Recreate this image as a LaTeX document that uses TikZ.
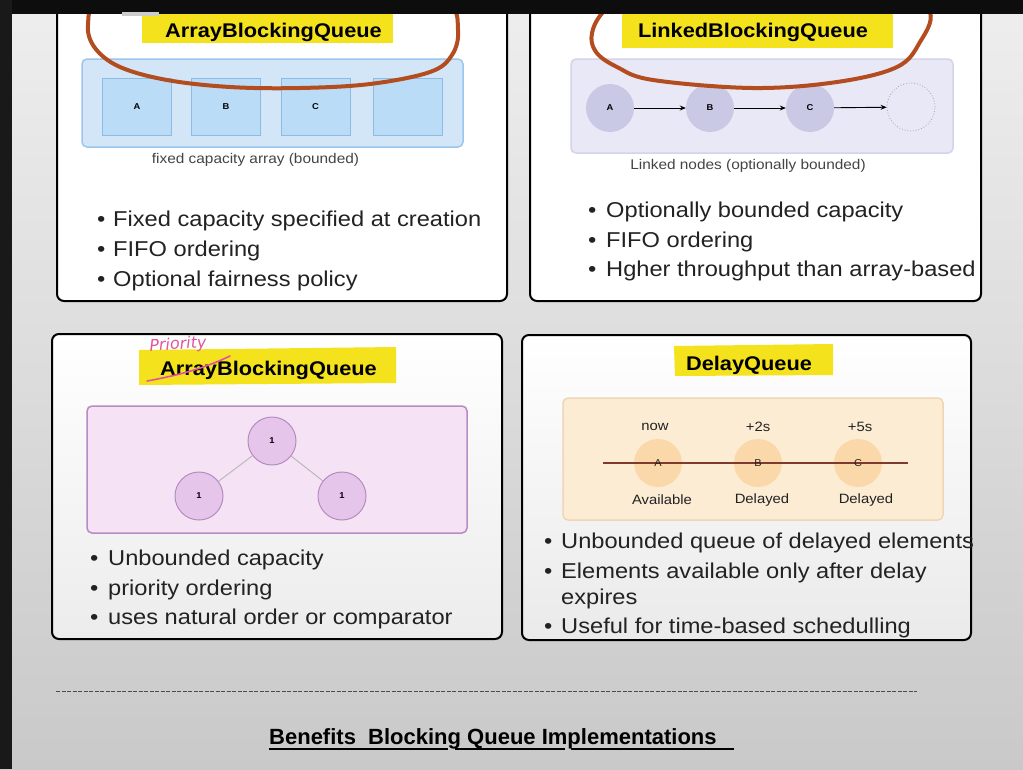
\documentclass[tikz,border=0pt]{standalone}
\usepackage{fontspec}
\setmainfont{Liberation Sans}
\newfontfamily\widesans{Liberation Sans}[FakeStretch=1.1]
\newfontfamily\handfont{DejaVu Sans}
\usetikzlibrary{arrows.meta,shapes.geometric}
\definecolor{hl}{HTML}{F4E31C}
\definecolor{txt}{HTML}{222222}
\definecolor{cap}{HTML}{444444}
\definecolor{ringc}{HTML}{B34D1F}
\definecolor{bluebg}{HTML}{D2E6F8}
\definecolor{blueln}{HTML}{9CC6EE}
\definecolor{bluecell}{HTML}{BBDCF6}
\definecolor{bluecellln}{HTML}{8DBBE2}
\definecolor{lavbg}{HTML}{E8E8F6}
\definecolor{lavln}{HTML}{D3D3EA}
\definecolor{lavc}{HTML}{C9C9E5}
\definecolor{pinkbg}{HTML}{F5E3F5}
\definecolor{pinkln}{HTML}{B98AC4}
\definecolor{pinkc}{HTML}{E6C5EA}
\definecolor{pinkcln}{HTML}{B68CC0}
\definecolor{orbg}{HTML}{FCECD4}
\definecolor{orln}{HTML}{EFD6B6}
\definecolor{orc}{HTML}{FAD6A6}
\definecolor{tline}{HTML}{7E3A2C}
\definecolor{penpink}{HTML}{E2559E}
\begin{document}
\begin{tikzpicture}[x=1pt,y=-1pt,
  panel/.style={draw=black, line width=2pt, rounded corners=7pt},
  title/.style={anchor=base, inner sep=0pt, font=\widesans\bfseries\fontsize{19.8}{24}\selectfont, text=black},
  bul/.style={anchor=base west, inner sep=0pt, font=\widesans\fontsize{21.5}{26}\selectfont, text=txt},
  captxt/.style={inner sep=0pt, font=\widesans\fontsize{14}{17}\selectfont, text=cap},
  cell/.style={draw=bluecellln, fill=bluecell, line width=1pt, minimum width=69pt, minimum height=57pt, inner sep=0pt, font=\widesans\bfseries\fontsize{8.5}{9}\selectfont},
  lnode/.style={circle, fill=lavc, minimum size=48pt, inner sep=0pt, font=\widesans\bfseries\fontsize{8.5}{9}\selectfont},
  hnode/.style={circle, draw=pinkcln, fill=pinkc, line width=1pt, minimum size=48pt, inner sep=0pt, font=\widesans\bfseries\fontsize{8.5}{9}\selectfont},
  dnode/.style={circle, fill=orc, fill opacity=0.9, text opacity=1, minimum size=48pt, inner sep=0pt},
  dlet/.style={inner sep=0pt, font=\widesans\fontsize{10}{11}\selectfont, text=txt},
  tlab/.style={inner sep=0pt, font=\widesans\fontsize{13.5}{16}\selectfont, text=txt},
  ring/.style={draw=ringc, line width=4pt, line join=round},
  link/.style={-{Stealth[length=6pt,width=5pt]}, line width=0.9pt, black}
]
\useasboundingbox (0,0) rectangle (1023,769);
% background
\shade[top color={rgb,255:red,238;green,238;blue,238}, bottom color={rgb,255:red,201;green,201;blue,201}] (0,0) rectangle (1023,769);

% ---------- panels ----------
\draw[panel, fill=white] (57,-20) rectangle (507,301);
\draw[panel, fill=white] (530,-20) rectangle (981,301);
\draw[panel, top color=white, bottom color={rgb,255:red,236;green,236;blue,236}] (52,334) rectangle (502,639);
\draw[panel, top color=white, bottom color={rgb,255:red,234;green,234;blue,234}] (522,335) rectangle (971,640);

% ---------- panel 1: ArrayBlockingQueue ----------
\fill[hl] (142,8) rectangle (393,43);
\node[title] (t1) at (273.5,37) {ArrayBlockingQueue};
\draw[draw=blueln, fill=bluebg, line width=1.5pt, rounded corners=5pt] (82,59) rectangle (463,147);
\node[cell] (ca) at (137,107) {A};
\node[cell] (cb) at (226,107) {B};
\node[cell] (cc) at (315.5,107) {C};
\node[cell] (cd) at (408,107) {};
\node[captxt] (c1) at (255.5,160) {fixed capacity array (bounded)};
\node[bul] at (97,226) {\textbullet};
\node[bul] (b11) at (113,226) {Fixed capacity specified at creation};
\node[bul] at (97,256) {\textbullet};
\node[bul] (b12) at (113,256) {FIFO ordering};
\node[bul] at (97,286) {\textbullet};
\node[bul] (b13) at (113,286) {Optional fairness policy};

% ---------- panel 2: LinkedBlockingQueue ----------
\fill[hl] (622,8) rectangle (893,48);
\node[title] (t2) at (753,37) {LinkedBlockingQueue};
\draw[draw=lavln, fill=lavbg, line width=1.5pt, rounded corners=5pt] (571,59) rectangle (953,153);
\node[lnode] (la) at (610,108) {A};
\node[lnode] (lb) at (710,108) {B};
\node[lnode] (lc) at (810,108) {C};
\node[circle, draw=gray!70, dotted, line width=0.8pt, minimum size=48pt, inner sep=0pt] (ld) at (911,107) {};
\draw[link] (la) -- (lb);
\draw[link] (lb) -- (lc);
\draw[link] (lc) -- (ld);
\node[captxt] (c2) at (748,166) {Linked nodes (optionally bounded)};
\node[bul] at (588,217) {\textbullet};
\node[bul] (b21) at (606,217) {Optionally bounded capacity};
\node[bul] at (588,247) {\textbullet};
\node[bul] (b22) at (606,247) {FIFO ordering};
\node[bul] at (588,276) {\textbullet};
\node[bul] (b23) at (606,276) {Hgher throughput than array-based};

% ---------- panel 3: Priority BlockingQueue ----------
\fill[hl] (139,350) -- (396,347) -- (396,383) -- (139,385) -- cycle;
\node[title] (t3) at (268.5,375) {ArrayBlockingQueue};
\draw[penpink, line width=1.6pt, line cap=round] (147,381) .. controls (180,375) and (205,368) .. (230,356);
\node[inner sep=0pt, rotate=4, text=penpink, font=\handfont\itshape\fontsize{16}{18}\selectfont] (pr) at (178,345) {Priority};
\draw[draw=pinkln, fill=pinkbg, line width=1.5pt, rounded corners=5pt] (87,406) rectangle (467,533);
\node[hnode] (h1) at (272,441) {1};
\node[hnode] (h2) at (199,496) {1};
\node[hnode] (h3) at (342,496) {1};
\draw[gray!55, line width=1pt] (h1) -- (h2);
\draw[gray!55, line width=1pt] (h1) -- (h3);
\node[bul] at (90,565) {\textbullet};
\node[bul] (b31) at (108,565) {Unbounded capacity};
\node[bul] at (90,595) {\textbullet};
\node[bul] (b32) at (108,595) {priority ordering};
\node[bul] at (90,624) {\textbullet};
\node[bul] (b33) at (108,624) {uses natural order or comparator};

% ---------- panel 4: DelayQueue ----------
\fill[hl] (674,346) -- (833,344) -- (833,375) -- (675,376) -- cycle;
\node[title] (t4) at (749,370) {DelayQueue};
\draw[draw=orln, fill=orbg, line width=1.5pt, rounded corners=5pt] (563,398) rectangle (943,520);
\node[dnode] (da) at (658,463) {};
\node[dnode] (db) at (758,463) {};
\node[dnode] (dc) at (858,463) {};
\coordinate (tl) at (603,463);
\coordinate (tr) at (908,463);
\draw[tline, line width=2pt] (tl) -- (tr);
\node[dlet] at (da) {A};
\node[dlet] at (db) {B};
\node[dlet] at (dc) {C};
\node[tlab] (n1) at (655,427) {now};
\node[tlab] (n2) at (758,427) {+2s};
\node[tlab] (n3) at (860,427) {+5s};
\node[tlab] (s1) at (662,500) {Available};
\node[tlab] (s2) at (762,500) {Delayed};
\node[tlab] (s3) at (866,500) {Delayed};
\node[bul] at (544,548) {\textbullet};
\node[bul] (b41) at (561,548) {Unbounded queue of delayed elements};
\node[bul] at (544,578) {\textbullet};
\node[bul] (b42) at (561,578) {Elements available only after delay};
\node[bul] (b43) at (561,604) {expires};
\node[bul] at (544,633) {\textbullet};
\node[bul] (b44) at (561,633) {Useful for time-based schedulling};

% ---------- hand-drawn rings ----------
\draw[ring] plot[smooth cycle, tension=0.6] coordinates {(100,0) (88,25) (95,48) (120,67) (167,80) (230,87) (300,88) (370,84) (430,72) (452,55) (458,30) (447,2) (380,-22) (272,-28) (170,-22)};
\draw[ring] plot[smooth cycle, tension=0.6] coordinates {(605,10) (592,33) (596,52) (617,67) (653,80) (753,88) (837,82) (897,67) (920,42) (930,12) (900,-18) (760,-28) (640,-16)};

% ---------- bottom ----------
\coordinate (dl) at (56,691);
\coordinate (dr) at (917,691);
\draw[gray!60!black, line width=1pt, dash pattern=on 4pt off 1.5pt] (dl) -- (dr);
\node[anchor=base west, inner sep=0pt, font=\bfseries\fontsize{22}{26}\selectfont, text=black] (bt) at (269,744) {Benefits\ \ Blocking Queue Implementations};
\draw[black, line width=1.6pt] (269,749) -- (448,749);
\draw[black, line width=1.6pt] (455,749) -- (565,749);
\draw[black, line width=1.6pt] (571,749) -- (734,749);

% ---------- screen chrome ----------
\fill[black!95] (0,0) rectangle (1023,14);
\fill[black!90] (0,0) rectangle (12,769);
\fill[gray!40] (122,12) rectangle (159,16);
\end{tikzpicture}
\end{document}
